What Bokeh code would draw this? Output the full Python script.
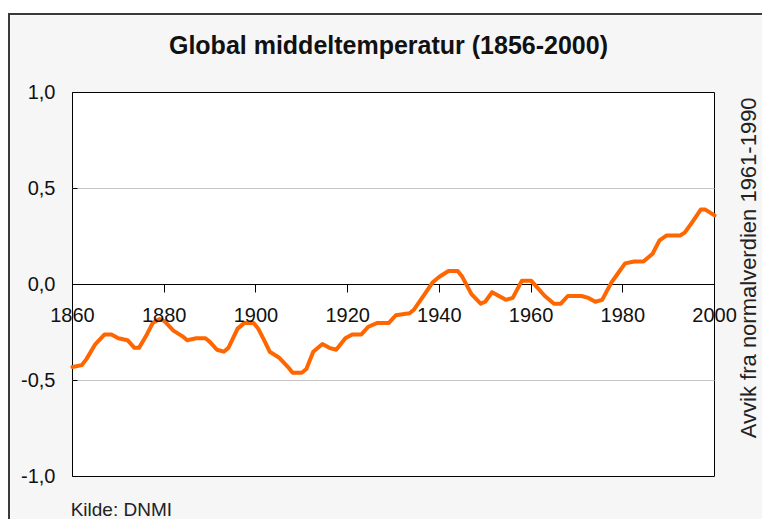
import math
from bokeh.plotting import figure
from bokeh.models import (Range1d, LinearAxis, FixedTicker, CustomJSTickFormatter,
                          Label, ColumnDataSource)
from bokeh.embed import file_html
from bokeh.resources import INLINE

# ---- data ----
years = [1860, 1862, 1863, 1865, 1867, 1868.5, 1870, 1872, 1873.5, 1874.5,
         1876, 1877.5, 1879, 1880, 1882, 1884, 1885, 1887, 1889, 1890,
         1891.5, 1893, 1894, 1896, 1897.5, 1899.5, 1900.5, 1902, 1903, 1905,
         1907, 1908, 1910, 1911, 1912.5, 1914.5, 1916, 1917.5, 1919.5, 1921,
         1923, 1924.5, 1926.5, 1929, 1930.5, 1933.5, 1934.5, 1936.5, 1938.5, 1940,
         1942, 1944, 1945, 1947, 1949, 1950, 1951.5, 1953, 1954.5, 1956,
         1958, 1960, 1963, 1965, 1966.5, 1968, 1971, 1972.5, 1974, 1975.5,
         1977.5, 1979, 1980.5, 1982.5, 1984.5, 1986.5, 1988, 1989.5, 1992.5, 1993.5,
         1995, 1997, 1998, 2000]
anomaly = [-0.43, -0.42, -0.39, -0.31, -0.26, -0.26, -0.28, -0.29, -0.33, -0.33,
           -0.27, -0.20, -0.18, -0.19, -0.24, -0.27, -0.29, -0.28, -0.28, -0.30,
           -0.34, -0.35, -0.33, -0.23, -0.20, -0.20, -0.23, -0.30, -0.35, -0.38,
           -0.43, -0.46, -0.46, -0.44, -0.35, -0.31, -0.33, -0.34, -0.28, -0.26,
           -0.26, -0.22, -0.20, -0.20, -0.16, -0.15, -0.13, -0.06, 0.01, 0.04,
           0.07, 0.07, 0.04, -0.05, -0.10, -0.09, -0.04, -0.06, -0.08, -0.07,
           0.02, 0.02, -0.06, -0.10, -0.10, -0.06, -0.06, -0.07, -0.09, -0.08,
           0.01, 0.06, 0.11, 0.12, 0.12, 0.16, 0.23, 0.255, 0.255, 0.27,
           0.32, 0.39, 0.39, 0.36]

x_ticks = [1860, 1880, 1900, 1920, 1940, 1960, 1980, 2000]
y_ticks = [-1.0, -0.5, 0.0, 0.5, 1.0]
grid_values = [-0.5, 0.5]
title_text = "Global middeltemperatur (1856-2000)"
right_text = "Avvik fra normalverdien 1961-1990"
source_text = "Kilde: DNMI"

FONT = "'Liberation Sans', Arial, sans-serif"

# The whole canvas is the data frame, so texts outside the white plot box are not clipped.
p = figure(width=754, height=506, output_backend="svg", toolbar_location=None,
           x_range=Range1d(1846.48, 2010.90), y_range=Range1d(-1.2344, 1.4010),
           x_axis_location=None, y_axis_location=None,
           min_border=0, min_border_left=0, min_border_right=0,
           min_border_top=0, min_border_bottom=0)
p.margin = (13, 0, 0, 8)
p.styles = {"border-left": "2px solid #3a3a3a", "border-top": "2px solid #3a3a3a"}
p.border_fill_color = "#f6f6f6"
p.background_fill_color = "#f6f6f6"
p.outline_line_color = None
p.xgrid.visible = False
p.ygrid.visible = False

x0, x1 = x_ticks[0], x_ticks[-1]
y0, y1 = y_ticks[0], y_ticks[-1]

# white plot box with black border
p.quad(left=[x0], right=[x1], bottom=[y0], top=[y1],
       fill_color="white", line_color="black", line_width=1)
# horizontal grid lines at +-0.5
p.segment(x0=[x0] * len(grid_values), x1=[x1] * len(grid_values),
          y0=grid_values, y1=grid_values, line_color="#c4c4c4", line_width=1)
# zero line
p.segment(x0=[x0], x1=[x1], y0=[0], y1=[0], line_color="black", line_width=1.2)

src = ColumnDataSource(data=dict(year=years, value=anomaly))
p.line("year", "value", source=src, line_color="#ff6600", line_width=4,
       line_join="round", line_cap="round")

# x axis drawn at y = 0
xa = LinearAxis(ticker=FixedTicker(ticks=x_ticks), fixed_location=0)
xa.axis_line_color = None
xa.major_tick_line_color = "black"
xa.major_tick_in = 0
xa.major_tick_out = 8
xa.minor_tick_line_color = None
xa.major_label_standoff = 16
xa.major_label_text_font = FONT
xa.major_label_text_font_size = "20px"
xa.major_label_text_color = "#111111"
p.add_layout(xa, "below")

# y axis at the left edge of the plot box
ya = LinearAxis(ticker=FixedTicker(ticks=y_ticks), fixed_location=x0,
                formatter=CustomJSTickFormatter(code="return tick.toFixed(1).replace('.', ',');"))
ya.axis_line_color = None
ya.major_tick_line_color = "black"
ya.major_tick_in = 5
ya.major_tick_out = 0
ya.minor_tick_line_color = None
ya.major_label_standoff = 17
ya.major_label_text_font = FONT
ya.major_label_text_font_size = "20px"
ya.major_label_text_color = "#111111"
p.add_layout(ya, "left")

p.add_layout(Label(x=1928.9, y=1.245, text=title_text, text_align="center",
                   text_baseline="middle", text_font=FONT, text_font_style="bold",
                   text_font_size="25px", text_color="#111111"))
p.add_layout(Label(x=2007.4, y=0.087, text=right_text, angle=math.pi / 2,
                   text_align="center", text_baseline="middle", text_font=FONT,
                   text_font_size="22px", text_color="#222222"))
p.add_layout(Label(x=1859.6, y=-1.172, text=source_text, text_align="left",
                   text_baseline="middle", text_font=FONT,
                   text_font_size="19px", text_color="#222222"))

open("out.html", "w").write(file_html(p, INLINE))
